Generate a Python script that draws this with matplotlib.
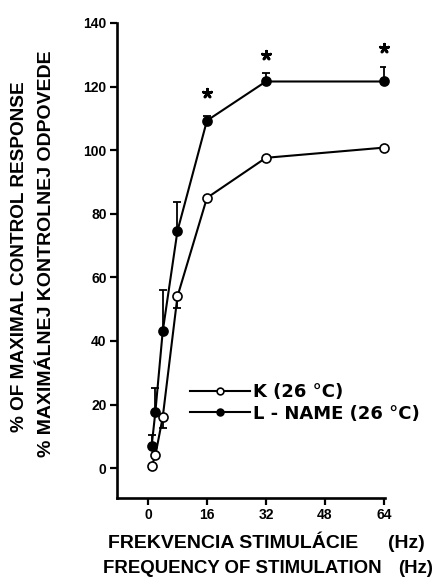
import numpy as np
import matplotlib.pyplot as plt

plt.rcParams["font.family"] = ["Liberation Sans", "DejaVu Sans"]
plt.rcParams["font.weight"] = "bold"

# data
freq = [1, 2, 4, 8, 16, 32, 64]
k_mean = [0.6, 4, 16, 54, 85, 97.6, 100.8]
k_err = [0.8, 0, 3.5, 3.5, 0, 0, 0]
lname_mean = [7, 17.6, 43, 74.6, 109.3, 121.6, 121.6]
lname_err = [3.4, 7.5, 13, 9, 1.5, 2.8, 4.7]
star_x = [16, 32, 64]
star_y = [118, 130, 132]

fig = plt.figure(figsize=(4.34, 5.85), dpi=100)
ax = fig.add_axes([0.2696, 0.1487, 0.6175, 0.812])

# error bars: L-NAME upwards, K downwards
zeros = np.zeros(len(freq))
ax.errorbar(freq, lname_mean, yerr=[zeros, lname_err], fmt="none", ecolor="black",
            elinewidth=1.3, capsize=3, capthick=1.3, zorder=2)
ax.errorbar(freq, k_mean, yerr=[k_err, zeros], fmt="none", ecolor="black",
            elinewidth=1.3, capsize=3, capthick=1.3, zorder=2)

ax.plot(freq, k_mean, "-o", color="black", mfc="white", mec="black",
        lw=1.5, ms=6.5, mew=1.2, label="K (26 °C)", zorder=3, clip_on=False)
ax.plot(freq, lname_mean, "-o", color="black", mfc="black", mec="black",
        lw=1.5, ms=6.5, mew=1.2, label="L - NAME (26 °C)", zorder=3, clip_on=False)

# significance marks
ax.scatter(star_x, star_y, marker=(5, 2, 0), s=38, color="black",
           linewidths=2.0, clip_on=False)

ax.set_xlim(-8.4, 64.3)
ax.set_ylim(-9.4, 140)
ax.set_xticks([0, 16, 32, 48, 64])
ax.set_yticks([0, 20, 40, 60, 80, 100, 120, 140])
ax.tick_params(direction="out", length=5, width=1.6, labelsize=10, pad=2.5)
for lab in ax.get_xticklabels() + ax.get_yticklabels():
    lab.set_fontweight("bold")

for side in ["top", "right"]:
    ax.spines[side].set_visible(False)
for side in ["left", "bottom"]:
    ax.spines[side].set_linewidth(1.9)

leg = ax.legend(loc="upper left", bbox_to_anchor=(190 / 434, 1 - 383 / 585),
                bbox_transform=fig.transFigure, frameon=False,
                borderpad=0, borderaxespad=0, markerscale=0.75,
                handlelength=3.3, handletextpad=0.2, labelspacing=0.2,
                prop={"family": "DejaVu Sans", "weight": "bold", "size": 13})

fig.text(0.046, 0.562, "% OF MAXIMAL CONTROL RESPONSE", rotation=90,
         ha="center", va="center", fontsize=13.7, fontweight="bold")
fig.text(0.108, 0.567, "% MAXIMÁLNEJ KONTROLNEJ ODPOVEDE", rotation=90,
         ha="center", va="center", fontsize=14, fontweight="bold")

fig.text(108 / 434, 1 - 548 / 585, "FREKVENCIA STIMULÁCIE",
         ha="left", va="baseline", fontsize=14, fontweight="bold")
fig.text(425 / 434, 1 - 548 / 585, "(Hz)",
         ha="right", va="baseline", fontsize=14, fontweight="bold")
fig.text(103 / 434, 1 - 573 / 585, "FREQUENCY OF STIMULATION",
         ha="left", va="baseline", fontsize=13.4, fontweight="bold")
fig.text(433 / 434, 1 - 573 / 585, "(Hz)",
         ha="right", va="baseline", fontsize=13.4, fontweight="bold")

fig.savefig("out.png", dpi=100)
